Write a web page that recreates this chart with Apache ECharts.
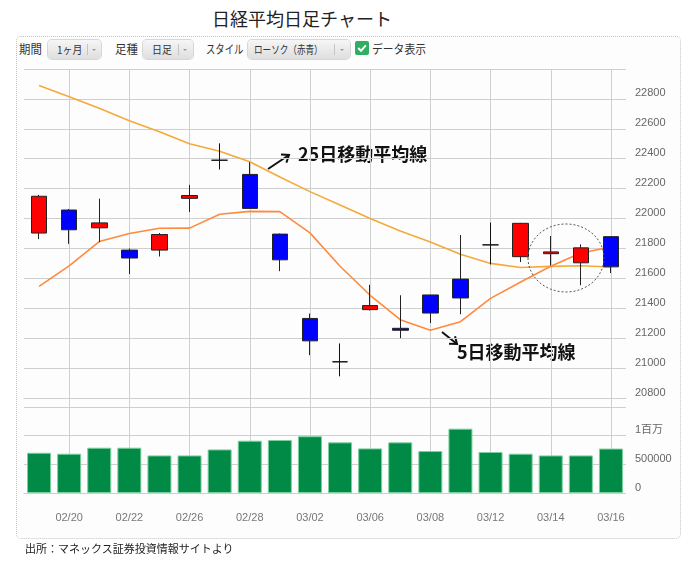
<!DOCTYPE html>
<html>
<head>
<meta charset="utf-8">
<script src="https://cdn.jsdelivr.net/npm/echarts@6/dist/echarts.min.js"></script>
<style>
  html,body{margin:0;padding:0;background:#fff;}
  body{font-family:"Noto Sans CJK JP","Noto Sans",sans-serif;}
  #wrap{position:relative;width:700px;height:562px;overflow:hidden;}
  #card{position:absolute;left:16px;top:36px;width:665px;height:503px;border:1px dotted #c4c4c4;border-radius:5px;background:#fdfdfd;box-sizing:border-box;}
  #chart{position:absolute;left:0;top:0;width:700px;height:562px;}
  .lbl{position:absolute;top:40px;font-size:12px;line-height:18px;color:#333;white-space:nowrap;transform-origin:0 50%;}
  .dd{position:absolute;top:40px;height:19px;border-radius:4px;background:linear-gradient(#f6f6f6,#dedede);box-shadow:0 0 0 1px #d6d6d6;box-sizing:border-box;}
  .dd span{position:absolute;top:0;font-size:11px;line-height:19px;color:#333;white-space:nowrap;transform-origin:0 50%;}
  .dd i{position:absolute;top:4px;width:1px;height:11px;background:#c4c4c4;}
  .dd b{position:absolute;top:9px;width:0;height:0;border-left:2px solid transparent;border-right:2px solid transparent;border-top:2px solid #999;}
  #chk{position:absolute;left:355px;top:41px;width:14px;height:14px;border-radius:2px;background:#2fae62;}
  #chk svg{position:absolute;left:0;top:0;}
  #title{position:absolute;left:0;width:604px;top:5px;text-align:center;font-size:18px;line-height:26px;color:#222;}
  #foot{position:absolute;left:25px;top:540px;font-size:11px;line-height:16px;color:#222;}
</style>
</head>
<body>
<div id="wrap">
  <div id="title">日経平均日足チャート</div>
  <div id="card"></div>
  <div class="lbl" style="left:19px;transform:scaleX(0.95)">期間</div>
  <div class="dd" style="left:48px;width:53px"><span style="left:9px;transform:scaleX(0.9)">1ヶ月</span><i style="left:39px"></i><b style="left:44px"></b></div>
  <div class="lbl" style="left:115px;transform:scaleX(0.95)">足種</div>
  <div class="dd" style="left:143px;width:50px"><span style="left:9px;transform:scaleX(0.9)">日足</span><i style="left:35px"></i><b style="left:40px"></b></div>
  <div class="lbl" style="left:206px;transform:scaleX(0.78)">スタイル</div>
  <div class="dd" style="left:248px;width:102px"><span style="left:6px;transform:scaleX(0.78)">ローソク（赤青）</span><i style="left:86px"></i><b style="left:92px"></b></div>
  <div id="chk"><svg width="14" height="14" viewBox="0 0 14 14"><polyline points="3.2,7 6,9.8 10.8,4.4" fill="none" stroke="#ffffff" stroke-width="2"/></svg></div>
  <div class="lbl" style="left:372px;transform:scaleX(0.9)">データ表示</div>
  <div id="chart"></div>
  <div id="foot">出所：マネックス証券投資情報サイトより</div>
</div>
<script>
// ---- data ----
const dates = ['02/19','02/20','02/21','02/22','02/23','02/26','02/27','02/28','03/01','03/02',
               '03/05','03/06','03/07','03/08','03/09','03/12','03/13','03/14','03/15','03/16'];
const openV  = [21903,22057,21938,21789,21789,22135,22390,22295,21896,21332,21042,21391,21266,21489,21595,21824,21745,21765,21704,21879];
const closeV = [22149,21925,21971,21736,21893,22154,22390,22068,21724,21182,21042,21418,21253,21368,21469,21824,21968,21777,21804,21677];
const lowV   = [21863,21831,21842,21629,21746,22044,22328,22067,21648,21087,20945,21385,21200,21301,21360,21693,21709,21686,21554,21635];
const highV  = [22158,22064,22133,21800,21903,22225,22503,22377,21900,21365,21165,21557,21487,21490,21890,21973,21971,21883,21827,21880];
const ma5    = [21547,21683,21846,21900,21935,21936,22029,22048,22046,21904,21681,21487,21324,21253,21310,21466,21576,21681,21769,21810];
const ma25   = [22889,22815,22737,22654,22581,22500,22450,22380,22278,22180,22090,22000,21917,21843,21761,21700,21673,21680,21684,21676];
const volume = [702000,685000,790000,790000,655000,655000,760000,912000,924000,990000,883000,778000,883000,732000,1122000,715000,685000,655000,655000,775000];
const volTickLabels = {0:'0', 500000:'500000', 1000000:'1百万'};
const ma5Name = '5日移動平均線';
const ma25Name = '25日移動平均線';

const candleData = dates.map((d,i)=>[openV[i], closeV[i], lowV[i], highV[i]]);
const showIdx = (i)=> i % 2 === 1;
const gridColor = '#cfcfcf';

function arrow(x1,y1,x2,y2){
  const a = Math.atan2(y2-y1, x2-x1), L = 8, s = 0.65;
  return [
    {type:'line', shape:{x1,y1,x2,y2}, style:{stroke:'#111', lineWidth:2}},
    {type:'polyline', shape:{points:[[x2-L*Math.cos(a-s), y2-L*Math.sin(a-s)],[x2,y2],[x2-L*Math.cos(a+s), y2-L*Math.sin(a+s)]]},
     style:{stroke:'#111', lineWidth:2, fill:null}}
  ];
}

const chart = echarts.init(document.getElementById('chart'), null, {renderer:'canvas'});
const option = {
  animation:false,
  backgroundColor:'transparent',
  textStyle:{fontFamily:'"Liberation Sans", "Noto Sans CJK JP", sans-serif'},
  grid:[
    {left:24, width:602, top:69, height:329, outerBoundsMode:'none'},
    {left:24, width:602, top:407, height:86, outerBoundsMode:'none'}
  ],
  xAxis:[
    {type:'category', gridIndex:0, data:dates, boundaryGap:true,
     axisLine:{show:true, lineStyle:{color:gridColor}},
     axisTick:{show:true, inside:false, length:9, interval:showIdx, alignWithLabel:true, lineStyle:{color:gridColor}},
     axisLabel:{show:false},
     splitLine:{show:true, interval:showIdx, alignWithLabel:true, lineStyle:{color:gridColor}}},
    {type:'category', gridIndex:1, data:dates, boundaryGap:true, offset:16,
     axisLine:{show:true, lineStyle:{color:'#c8d0d8', type:'dotted'}},
     axisTick:{show:true, inside:true, length:16, interval:showIdx, alignWithLabel:true, lineStyle:{color:gridColor}},
     axisLabel:{show:true, interval:showIdx, color:'#777', fontSize:11, margin:3},
     splitLine:{show:true, interval:showIdx, alignWithLabel:true, lineStyle:{color:gridColor}}}
  ],
  yAxis:[
    {type:'value', gridIndex:0, position:'right', min:20800, max:23000, interval:200,
     axisLine:{show:false}, axisTick:{show:false},
     axisLabel:{color:'#666', fontSize:11, margin:9, verticalAlign:'bottom',
                formatter:(v)=> v >= 23000 ? '' : String(v)},
     splitLine:{show:true, lineStyle:{color:gridColor}}},
    {type:'value', gridIndex:1, position:'right', min:0, max:1500000, interval:500000,
     axisLine:{show:false}, axisTick:{show:false},
     axisLabel:{color:'#666', fontSize:11, margin:9, verticalAlign:'bottom',
                formatter:(v)=> volTickLabels[v] !== undefined ? volTickLabels[v] : ''},
     splitLine:{show:true, lineStyle:{color:gridColor}}}
  ],
  series:[
    {name:ma25Name, type:'line', xAxisIndex:0, yAxisIndex:0, data:ma25, symbol:'none',
     lineStyle:{color:'#f4aa3a', width:1.6}, z:2},
    {name:ma5Name, type:'line', xAxisIndex:0, yAxisIndex:0, data:ma5, symbol:'none',
     lineStyle:{color:'#ff8a3c', width:1.6}, z:2},
    {name:'日経平均', type:'candlestick', xAxisIndex:0, yAxisIndex:0, data:candleData, barWidth:16, z:3,
     itemStyle:{color:'#ff0000', color0:'#0000ff', borderColor:'#222', borderColor0:'#222',
                borderColorDoji:'#111', borderWidth:1}},
    {name:'出来高', type:'bar', xAxisIndex:1, yAxisIndex:1, data:volume, barWidth:24,
     itemStyle:{color:'#008a46', borderColor:'#7ccf9e', borderWidth:1}}
  ],
  graphic:[
    {type:'text', left:298, top:145, style:{text:'25日移動平均線', font:'bold 18px "Noto Sans CJK JP", sans-serif', fill:'#111'}},
    {type:'text', left:457, top:343, style:{text:'5日移動平均線', font:'bold 18px "Noto Sans CJK JP", sans-serif', fill:'#111'}},
    ...arrow(268,169,289,155),
    ...arrow(442,332,457,344),
    {type:'ellipse', shape:{cx:566, cy:258, rx:38, ry:34}, style:{fill:null, stroke:'#555', lineWidth:1, lineDash:[2,2]}, z:10}
  ]
};
chart.setOption(option);
</script>
</body>
</html>
